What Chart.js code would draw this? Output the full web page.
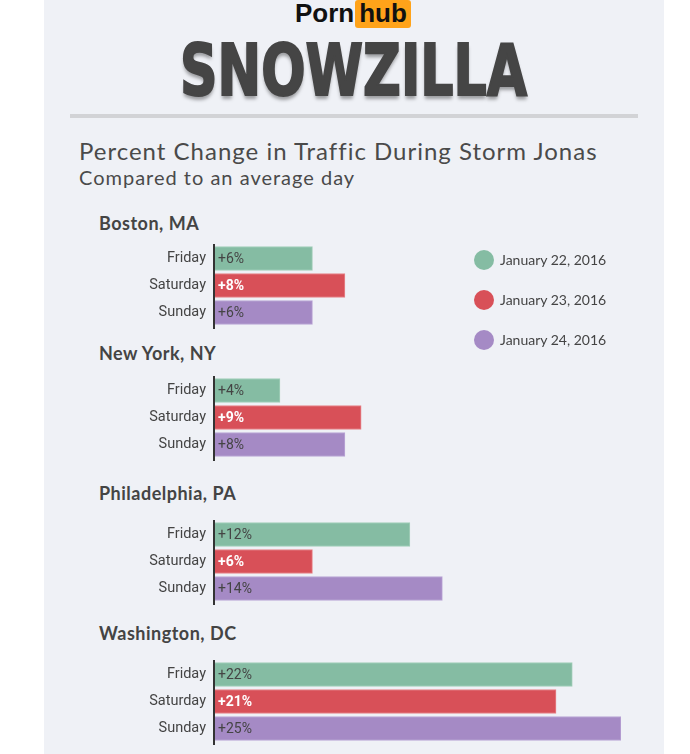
<!DOCTYPE html>
<html>
<head>
<meta charset="utf-8">
<script src="https://cdn.jsdelivr.net/npm/chart.js@4.4.1/dist/chart.umd.min.js"></script>
<style>
  html, body { margin: 0; padding: 0; background: #fff; }
  body { width: 690px; height: 754px; position: relative; overflow: hidden; font-family: Lato, "Open Sans", sans-serif; color: #444; }
  #panel { position: absolute; left: 44px; top: 0; width: 620px; height: 754px; background: #eff1f6; }
  .abs { position: absolute; white-space: nowrap; }
  #logo { left: 295px; top: 0; height: 28px; font: bold 26px "Liberation Sans", Arial, sans-serif; color: #111; line-height: 27px; }
  #logo span { background: #ffa31a; color: #111; border-radius: 3px; padding: 0 4px 1px 4px; margin-left: 1px; display: inline-block; }
  #snow { left: 180px; top: 28px; font: bold 72px "DejaVu Sans Condensed", "Liberation Sans Narrow", sans-serif; color: #454545; -webkit-text-stroke: 2px #454545; text-shadow: 0 4px 4px rgba(0,0,0,0.35); transform-origin: left top; }
  #rule { left: 70px; top: 114px; width: 568px; height: 4px; background: #d2d3d6; }
  #title { left: 79px; top: 136px; font-size: 24px; font-weight: 400; color: #4a4a4a; letter-spacing: 1px; }
  #subtitle { left: 79px; top: 165px; font-size: 20px; font-weight: 400; color: #4a4a4a; letter-spacing: 1px; }
  .city { left: 99px; font-size: 18px; font-weight: bold; color: #444; letter-spacing: 0.5px; }
  .legend { left: 474px; font-size: 14px; color: #444; line-height: 20px; }
  .legend i { display: inline-block; width: 20px; height: 20px; border-radius: 50%; vertical-align: middle; margin-right: 6px; margin-top: -3px; }
  canvas { position: absolute; }
  #fontprobe { position: absolute; left: -999px; font-family: Roboto; }
</style>
</head>
<body>
<div id="panel"></div>
<div id="fontprobe">Roboto <b>Roboto</b></div>
<div id="logo" class="abs">Porn<span>hub</span></div>
<div id="snow" class="abs">SNOWZILLA</div>
<div id="rule" class="abs"></div>
<div id="title" class="abs">Percent Change in Traffic During Storm Jonas</div>
<div id="subtitle" class="abs">Compared to an average day</div>
<div id="charts"></div>
<script>
const cities = ["Boston, MA", "New York, NY", "Philadelphia, PA", "Washington, DC"];
const days = ["Friday", "Saturday", "Sunday"];
const dates = ["January 22, 2016", "January 23, 2016", "January 24, 2016"];
const bostonValues = [6, 8, 6];
const newYorkValues = [4, 9, 8];
const philadelphiaValues = [12, 6, 14];
const washingtonValues = [22, 21, 25];
const cityValues = [bostonValues, newYorkValues, philadelphiaValues, washingtonValues];

const barColors = ["#85bca3", "#d85058", "#a58ac5"];
const barBorders = ["#a3cfba", "#e7868b", "#bba6d6"];
const labelColors = ["#444", "#fff", "#444"];

// layout of each city block: title top, chart area top
const cityTitleTop = [212, 342, 482, 622];
const chartTop = [245, 377, 521, 661];

// squeeze the big title to the width in the picture
const snow = document.getElementById("snow");
const sx = 347 / snow.offsetWidth;
snow.style.transform = `scale(${sx}, 1)`;

const container = document.getElementById("charts");

// legend
dates.forEach((d, i) => {
  const el = document.createElement("div");
  el.className = "abs legend";
  el.style.top = (250 + i * 40) + "px";
  el.innerHTML = `<i style="background:${barColors[i]}"></i>${d}`;
  document.body.appendChild(el);
});

const axisLine = {
  id: "axisLine",
  afterDraw(chart) {
    const { ctx, chartArea } = chart;
    ctx.save();
    ctx.fillStyle = "#333";
    ctx.fillRect(chartArea.left - 2, chartArea.top - 1, 2, chartArea.bottom - chartArea.top + 4);
    ctx.restore();
  }
};

const barLabels = {
  id: "barLabels",
  afterDatasetsDraw(chart) {
    const { ctx } = chart;
    const meta = chart.getDatasetMeta(0);
    ctx.save();
    ctx.textBaseline = "middle";
    meta.data.forEach((bar, i) => {
      ctx.fillStyle = labelColors[i];
      ctx.font = (i === 1 ? "bold " : "") + "14px Roboto, sans-serif";
      ctx.fillText("+" + chart.data.datasets[0].data[i] + "%", bar.base + 3, bar.y + 1);
    });
    ctx.restore();
  }
};

function drawCity(city, c) {
  const t = document.createElement("div");
  t.className = "abs city";
  t.style.top = cityTitleTop[c] + "px";
  t.textContent = city;
  document.body.appendChild(t);

  const canvas = document.createElement("canvas");
  canvas.style.left = "140px";
  canvas.style.top = (chartTop[c] - 3) + "px";
  canvas.width = 484;
  canvas.height = 87;
  container.appendChild(canvas);

  new Chart(canvas.getContext("2d"), {
    type: "bar",
    data: {
      labels: days,
      datasets: [{
        data: cityValues[c],
        backgroundColor: barColors,
        borderColor: barBorders,
        borderWidth: 1,
        borderSkipped: "left",
        barThickness: 24
      }]
    },
    options: {
      indexAxis: "y",
      responsive: false,
      animation: false,
      devicePixelRatio: 1,
      layout: { padding: { top: 3, bottom: 3, left: 0, right: 3 } },
      plugins: { legend: { display: false }, tooltip: { enabled: false } },
      scales: {
        x: { min: 0, max: 25, display: false },
        y: {
          afterFit: scale => {
            scale.width = 75;
            scale.paddingTop = 0;
            scale.paddingBottom = 0;
          },
          grid: { display: false, drawTicks: false },
          border: { display: false },
          ticks: { color: "#444", font: { family: "Roboto, sans-serif", size: 14.5 }, padding: 9 }
        }
      }
    },
    plugins: [axisLine, barLabels]
  });
}

// make sure Roboto is ready before the canvases draw
Promise.all([document.fonts.load("14px Roboto"), document.fonts.load("bold 14px Roboto")])
  .catch(() => {})
  .then(() => cities.forEach(drawCity));
</script>
</body>
</html>
